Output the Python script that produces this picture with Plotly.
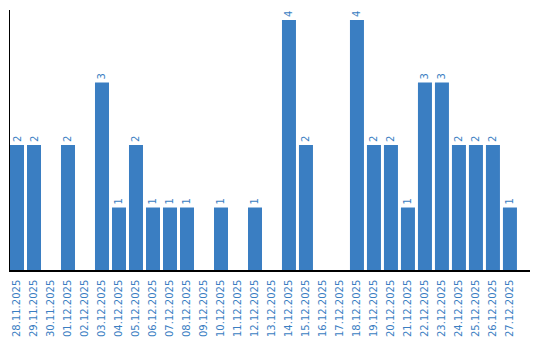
import plotly.graph_objects as go

dates = ["28.11.2025", "29.11.2025", "30.11.2025", "01.12.2025", "02.12.2025",
         "03.12.2025", "04.12.2025", "05.12.2025", "06.12.2025", "07.12.2025",
         "08.12.2025", "09.12.2025", "10.12.2025", "11.12.2025", "12.12.2025",
         "13.12.2025", "14.12.2025", "15.12.2025", "16.12.2025", "17.12.2025",
         "18.12.2025", "19.12.2025", "20.12.2025", "21.12.2025", "22.12.2025",
         "23.12.2025", "24.12.2025", "25.12.2025", "26.12.2025", "27.12.2025"]
counts = [2, 2, 0, 2, 0, 3, 1, 2, 1, 1,
          1, 0, 1, 0, 1, 0, 4, 2, 0, 0,
          4, 2, 2, 1, 3, 3, 2, 2, 2, 1]

blue = "#3a7ec2"
labels = [str(v) if v else "" for v in counts]

fig = go.Figure(go.Bar(
    x=dates, y=counts, text=labels, textposition="outside", textangle=-90,
    constraintext="none", cliponaxis=False,
    marker=dict(color=blue, line=dict(width=0)),
    textfont=dict(family="DejaVu Sans", size=10, color=blue),
))
fig.update_layout(
    width=540, height=340, margin=dict(l=10, r=10, t=10, b=70),
    paper_bgcolor="white", plot_bgcolor="white", showlegend=False,
    bargap=0.176,
    font=dict(family="DejaVu Sans", size=10, color=blue),
)
fig.update_xaxes(type="category", range=[-0.412, 30.18], tickangle=-90,
                 showline=True, linecolor="black", linewidth=1.5,
                 showgrid=False, ticks="", ticklabelstandoff=4, automargin=False,
                 tickfont=dict(size=10, color=blue))
fig.update_yaxes(range=[0, 4.16], showline=True, linecolor="black", linewidth=1,
                 showgrid=False, zeroline=False, showticklabels=False, ticks="",
                 automargin=False)
fig.write_html("out.html")
